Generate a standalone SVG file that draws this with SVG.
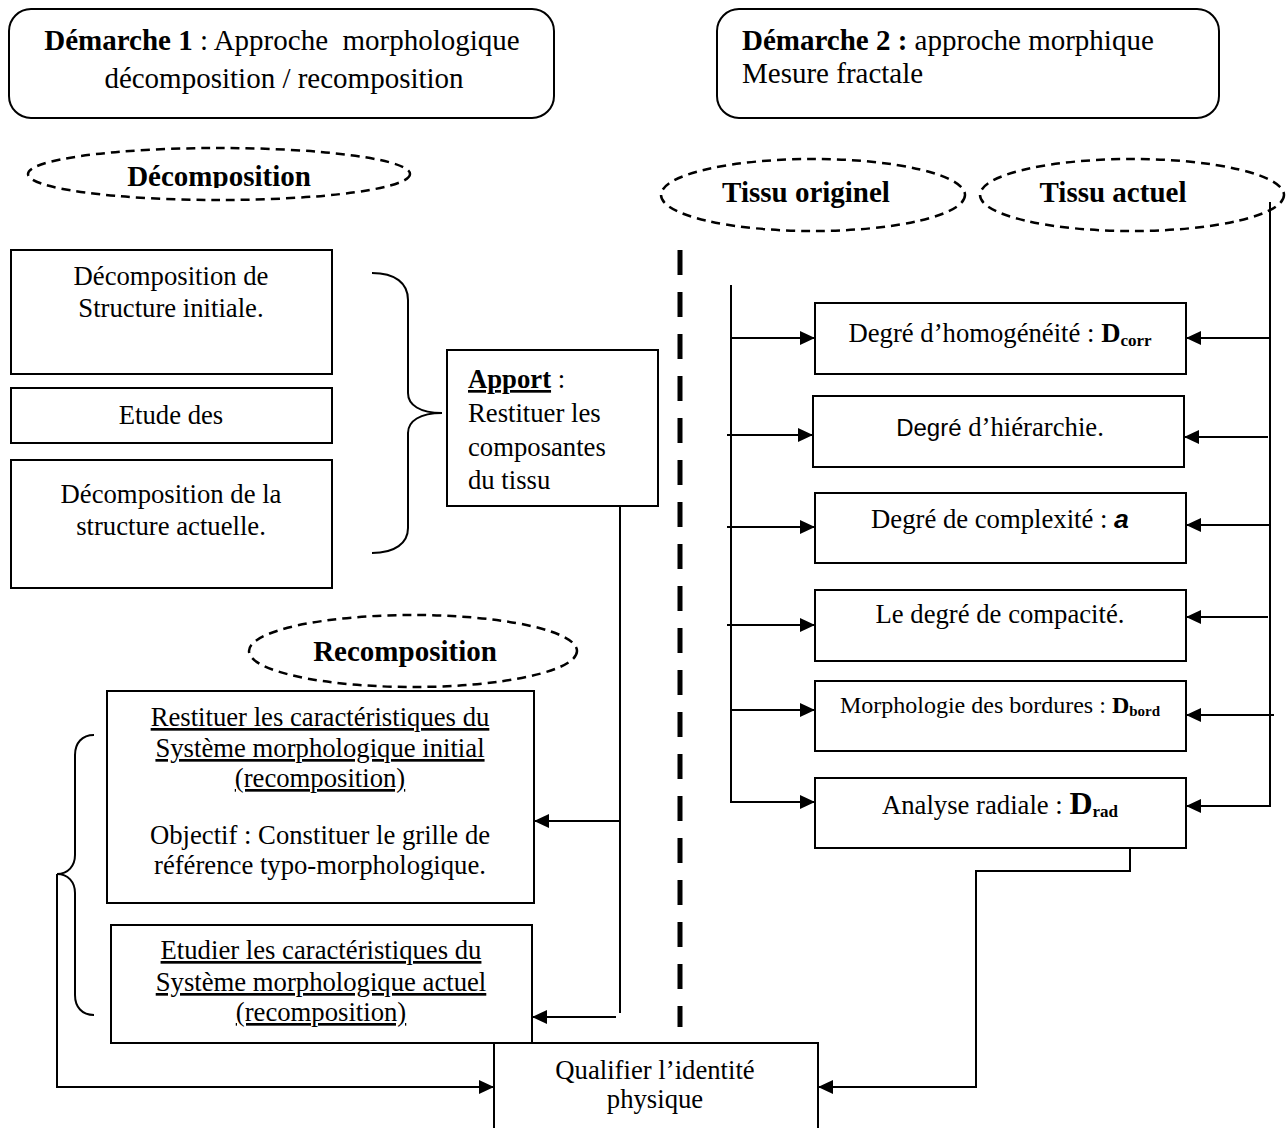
<svg xmlns="http://www.w3.org/2000/svg" width="1287" height="1128" viewBox="0 0 1287 1128">
  <style>
    text { font-family: "Liberation Serif", "Times New Roman", serif; fill: #000; }
    .box { fill: #fff; stroke: #000; stroke-width: 2; }
    .oval { fill: none; stroke: #000; stroke-width: 2.5; stroke-dasharray: 9 6; }
    .ln { fill: none; stroke: #000; stroke-width: 2; }
    .arr { marker-end: url(#tip); }
    .h1 { font-size: 29px; }
    .t { font-size: 26.7px; }
    .b { font-weight: bold; }
    .c { text-anchor: middle; }
    .u { text-decoration: underline; }
    .sep { fill: none; stroke: #000; stroke-width: 5; stroke-dasharray: 25 17; }
  </style>
  <defs>
    <marker id="tip" markerUnits="userSpaceOnUse" markerWidth="15" markerHeight="14" refX="15" refY="7" orient="auto">
      <path d="M0,0 L15,7 L0,14 z" fill="#000"/>
    </marker>
    <clipPath id="cutDecomp">
      <rect x="0" y="140" width="440" height="48"/>
    </clipPath>
  </defs>

  <rect width="1287" height="1128" fill="#fff"/>

  <!-- headers -->
  <g id="demarche1">
    <rect class="box" x="9" y="9" width="545" height="109" rx="22"/>
    <text class="h1 c" x="282" y="50" xml:space="preserve"><tspan class="b">Démarche 1</tspan> : Approche  morphologique</text>
    <text class="h1 c" x="284" y="88">décomposition / recomposition</text>
  </g>
  <g id="demarche2">
    <rect class="box" x="717" y="9" width="502" height="109" rx="22"/>
    <text class="h1" x="742" y="50"><tspan class="b">Démarche 2 :</tspan> approche morphique</text>
    <text class="h1" x="742" y="83">Mesure fractale</text>
  </g>

  <!-- dashed ovals -->
  <g id="decomposition">
    <ellipse class="oval" cx="219" cy="174" rx="191" ry="26"/>
    <text class="h1 b c" x="219" y="186" clip-path="url(#cutDecomp)">Décomposition</text>
  </g>
  <g id="tissu-originel">
    <ellipse class="oval" cx="813" cy="195" rx="152" ry="36"/>
    <text class="h1 b c" x="806" y="202">Tissu originel</text>
  </g>
  <g id="tissu-actuel">
    <ellipse class="oval" cx="1132" cy="195" rx="152" ry="36"/>
    <text class="h1 b c" x="1113" y="202">Tissu actuel</text>
  </g>
  <g id="recomposition">
    <ellipse class="oval" cx="413" cy="651" rx="164" ry="36"/>
    <text class="h1 b c" x="405" y="661">Recomposition</text>
  </g>

  <!-- separator between the two approaches -->
  <line class="sep" x1="680" y1="250" x2="680" y2="1027"/>

  <!-- decomposition boxes -->
  <g id="structure-initiale">
    <rect class="box" x="11" y="250" width="321" height="124"/>
    <text class="t c" x="171" y="285">Décomposition de</text>
    <text class="t c" x="171" y="317">Structure initiale.</text>
  </g>
  <g id="etude">
    <rect class="box" x="11" y="388" width="321" height="55"/>
    <text class="t c" x="171" y="424">Etude des</text>
  </g>
  <g id="structure-actuelle">
    <rect class="box" x="11" y="460" width="321" height="128"/>
    <text class="t c" x="171" y="503">Décomposition de la</text>
    <text class="t c" x="171" y="535">structure actuelle.</text>
  </g>

  <g id="apport">
    <rect class="box" x="447" y="350" width="211" height="156"/>
    <text class="t" x="468" y="388"><tspan class="b u">Apport</tspan> :</text>
    <text class="t" x="468" y="422">Restituer les</text>
    <text class="t" x="468" y="456">composantes</text>
    <text class="t" x="468" y="489">du tissu</text>
  </g>

  <!-- recomposition boxes -->
  <g id="systeme-initial">
    <rect class="box" x="107" y="691" width="427" height="212"/>
    <text class="t c u" x="320" y="726">Restituer les caractéristiques du</text>
    <text class="t c u" x="320" y="757">Système morphologique initial</text>
    <text class="t c u" x="320" y="787">(recomposition)</text>
    <text class="t c" x="320" y="844">Objectif : Constituer le grille de</text>
    <text class="t c" x="320" y="874">référence typo-morphologique.</text>
  </g>
  <g id="systeme-actuel">
    <rect class="box" x="111" y="925" width="421" height="118"/>
    <text class="t c u" x="321" y="959">Etudier les caractéristiques du</text>
    <text class="t c u" x="321" y="991">Système morphologique actuel</text>
    <text class="t c u" x="321" y="1021">(recomposition)</text>
  </g>

  <g id="qualifier">
    <rect class="box" x="494" y="1043" width="324" height="100"/>
    <text class="t c" x="655" y="1079">Qualifier l’identité</text>
    <text class="t c" x="655" y="1108">physique</text>
  </g>

  <!-- fractal measures -->
  <g id="homogeneite">
    <rect class="box" x="815" y="303" width="371" height="71"/>
    <text class="t c" x="1000" y="342">Degré d’homogénéité : <tspan class="b">D</tspan><tspan class="b" font-size="17" dy="4">corr</tspan></text>
  </g>
  <g id="hierarchie">
    <rect class="box" x="813" y="396" width="371" height="71"/>
    <text class="t c" x="1000" y="436"><tspan font-family="Liberation Sans, Arial, sans-serif" font-size="24">Degré</tspan> d’hiérarchie.</text>
  </g>
  <g id="complexite">
    <rect class="box" x="815" y="493" width="371" height="70"/>
    <text class="t c" x="1000" y="528">Degré de complexité : <tspan font-family="Liberation Sans, Arial, sans-serif" font-weight="bold" font-style="italic">a</tspan></text>
  </g>
  <g id="compacite">
    <rect class="box" x="815" y="590" width="371" height="71"/>
    <text class="t c" x="1000" y="623">Le degré de compacité.</text>
  </g>
  <g id="bordures">
    <rect class="box" x="815" y="681" width="371" height="70"/>
    <text class="c" font-size="24" x="1000" y="713">Morphologie des bordures : <tspan class="b">D</tspan><tspan class="b" font-size="15" dy="3">bord</tspan></text>
  </g>
  <g id="radiale">
    <rect class="box" x="815" y="778" width="371" height="70"/>
    <text class="t c" x="1000" y="814">Analyse radiale : <tspan class="b" font-size="32">D</tspan><tspan class="b" font-size="17" dy="3">rad</tspan></text>
  </g>

  <!-- connectors -->
  <g id="connectors">
    <!-- braces -->
    <path class="ln" d="M372,273 C395,273 408,283 408,300 L408,393 C408,405 420,413 442,413 C420,413 408,421 408,433 L408,528 C408,543 395,553 372,553"/>
    <path class="ln" d="M94,735 C82,735 75,743 75,755 L75,855 C75,866 68,874 57,874 C68,874 75,882 75,893 L75,995 C75,1007 82,1015 94,1015"/>

    <!-- from the brace to the final box -->
    <polyline class="ln arr" points="57,874 57,1087 494,1087"/>

    <!-- Apport to recomposition boxes -->
    <line class="ln" x1="620" y1="506" x2="620" y2="1013"/>
    <line class="ln arr" x1="620" y1="821" x2="534" y2="821"/>
    <line class="ln arr" x1="616" y1="1017" x2="532" y2="1017"/>

    <!-- original tissue feed -->
    <polyline class="ln arr" points="731,285 731,802 815,802"/>
    <line class="ln arr" x1="731" y1="338" x2="815" y2="338"/>
    <line class="ln arr" x1="727" y1="435" x2="813" y2="435"/>
    <line class="ln arr" x1="727" y1="527" x2="815" y2="527"/>
    <line class="ln arr" x1="727" y1="625" x2="815" y2="625"/>
    <line class="ln arr" x1="731" y1="710" x2="815" y2="710"/>

    <!-- current tissue feed -->
    <polyline class="ln arr" points="1270,202 1270,806 1186,806"/>
    <line class="ln arr" x1="1270" y1="338" x2="1186" y2="338"/>
    <line class="ln arr" x1="1268" y1="437" x2="1184" y2="437"/>
    <line class="ln arr" x1="1270" y1="525" x2="1186" y2="525"/>
    <line class="ln arr" x1="1268" y1="617" x2="1186" y2="617"/>
    <line class="ln arr" x1="1274" y1="715" x2="1186" y2="715"/>

    <!-- radial analysis to the final box -->
    <polyline class="ln arr" points="1130,848 1130,871 976,871 976,1087 818,1087"/>
  </g>
</svg>
